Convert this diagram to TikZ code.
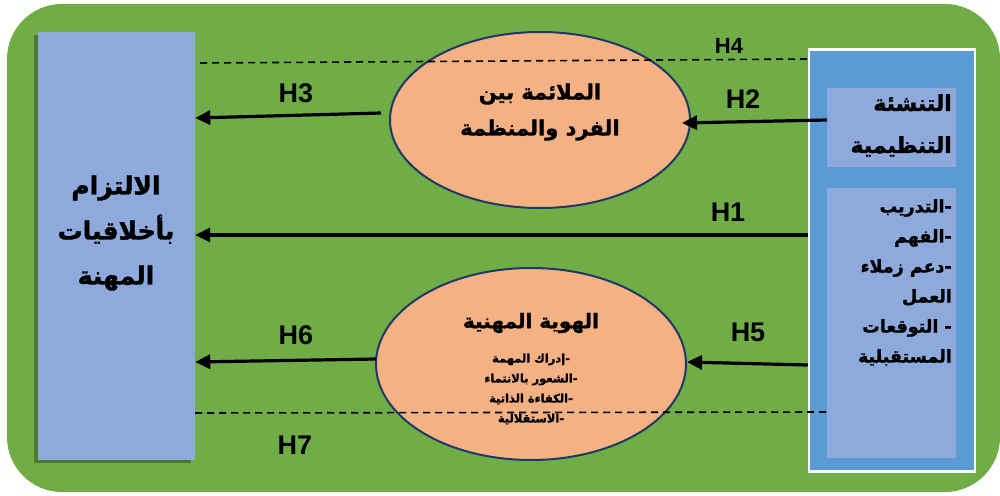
\documentclass[tikz,border=0pt]{standalone}
\usepackage{fontspec}
\setmainfont{Liberation Sans}
\newfontfamily\arabicfont[Script=Arabic,BoldFeatures={FakeBold=1.5}]{DejaVu Sans}
\TeXXeTstate=1
\usetikzlibrary{shapes.geometric,arrows.meta,shadows,calc}
\definecolor{bggreen}{HTML}{70AD47}
\definecolor{lightblue}{HTML}{8EA9DB}
\definecolor{midblue}{HTML}{5B9BD5}
\definecolor{peach}{HTML}{F4B183}
\definecolor{navy}{HTML}{1F3864}
\tikzset{
  arr/.style={line width=3.2pt,-{Triangle[length=15pt,width=14pt]}},
  dline/.style={line width=1.6pt,dash pattern=on 7pt off 5pt},
  oval/.style={ellipse,draw=navy,line width=2pt,fill=peach,inner sep=0pt},
  hlab/.style={font=\bfseries\fontsize{27}{30}\selectfont,inner sep=0pt},
  artxt/.style={inner sep=0pt,text=black},
  inbox/.style={fill=lightblue,draw=none,inner sep=0pt}
}
\begin{document}
\begin{tikzpicture}[x=1pt,y=-1pt]
\useasboundingbox (0,0) rectangle (1000,495);
\fill[white] (0,0) rectangle (1000,495);
% background
\node[fill=bggreen,draw=none,rounded corners=55pt,minimum width=993pt,minimum height=488pt,inner sep=0pt] (bg) at (503.5,248) {};
% left box
\node[fill=lightblue,draw=none,minimum width=157pt,minimum height=428pt,inner sep=0pt,
  drop shadow={shadow xshift=-4pt,shadow yshift=-3pt,fill=black,opacity=0.3}] (lb) at (116.5,246) {};
\node[artxt,align=center,font=\arabicfont\bfseries\fontsize{25}{45}\selectfont] (lbt) at (116,233)
  {\beginR الالتزام\endR\\ \beginR بأخلاقيات\endR\\ \beginR المهنة\endR};
% right box
\node[fill=midblue,draw=white,line width=2.5pt,minimum width=166pt,minimum height=422pt,inner sep=0pt] (rb) at (892,260.5) {};
\node[inbox,minimum width=129pt,minimum height=79pt] (b1) at (891.5,127.5) {};
\node[inbox,minimum width=129pt,minimum height=270pt] (b2) at (891.5,323) {};
\node[artxt,align=right,anchor=north east,font=\arabicfont\bfseries\fontsize{22}{42}\selectfont] (b1t) at (952,94)
  {\beginR التنشئة\endR\\ \beginR التنظيمية\endR};
\node[artxt,align=right,anchor=north east,font=\arabicfont\bfseries\fontsize{17.5}{30}\selectfont] (b2t) at (952,199)
  {\beginR -التدريب\endR\\ \beginR -الفهم\endR\\ \beginR -دعم زملاء\endR\\ \beginR العمل\endR\\ \beginR - التوقعات\endR\\ \beginR المستقبلية\endR};
% ellipses
\node[oval,minimum width=300pt,minimum height=176pt] (e1) at (540,120) {};
\node[artxt,align=center,font=\arabicfont\bfseries\fontsize{21}{36}\selectfont] (e1t) at (540,112)
  {\beginR الملائمة بين\endR\\ \beginR الفرد والمنظمة\endR};
\node[oval,minimum width=310pt,minimum height=192pt] (e2) at (531,364) {};
\node[artxt,font=\arabicfont\bfseries\fontsize{20}{24}\selectfont] (e2t) at (531,323)
  {\beginR الهوية المهنية\endR};
\node[artxt,align=center,font=\arabicfont\bfseries\fontsize{11.5}{20}\selectfont] (e2s) at (531,389)
  {\beginR -إدراك المهمة\endR\\ \beginR -الشعور بالانتماء\endR\\ \beginR -الكفاءة الذاتية\endR\\ \beginR -الاستقلالية\endR};
% dashed lines
\draw[dline] ($(lb.east|-0,63)+(5,0)$) -- (rb.west|-0,59);
\draw[dline] (lb.east|-0,413) -- (b2.west|-0,412);
% arrows
\coordinate (h3s) at ($(e1.west)+(-8,-7)$);
\coordinate (h6s) at ($(e2.west)+(1,-5)$);
\draw[arr] (rb.west|-0,235) -- (lb.east|-0,235);
\draw[arr] (b1.west|-0,120) -- ($(e1.east)+(-9,3)$);
\draw[arr] (h3s) -- (lb.east|-0,118);
\draw[arr] (rb.west|-0,365) -- ($(e2.east)+(0,-2)$);
\draw[arr] (h6s) -- (lb.east|-0,362);
% labels
\node[hlab,font=\bfseries\fontsize{22}{24}\selectfont] (h4) at (729,46) {H4};
\node[hlab] (h3) at (296,93) {H3};
\node[hlab] (h2) at (743,99) {H2};
\node[hlab] (h1) at (728,212) {H1};
\node[hlab] (h6) at (296,335) {H6};
\node[hlab] (h5) at (748,332) {H5};
\node[hlab] (h7) at (295,445) {H7};
\end{tikzpicture}
\end{document}
